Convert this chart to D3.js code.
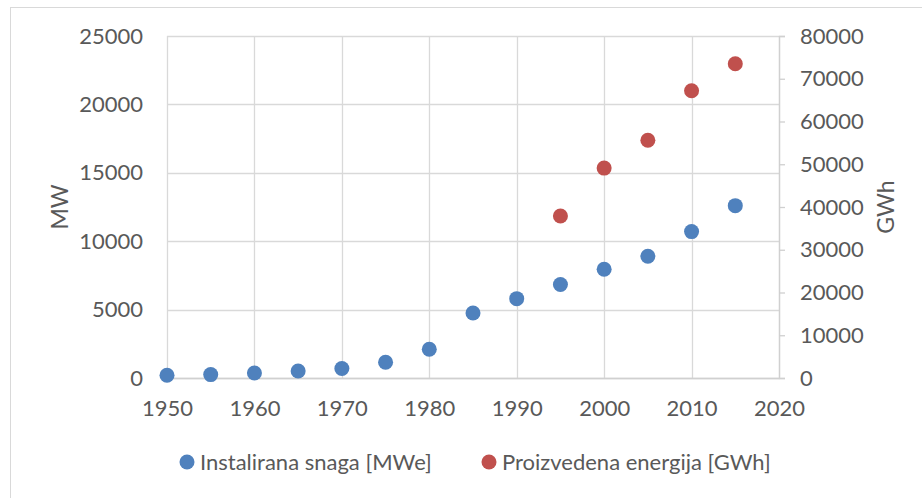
<!DOCTYPE html>
<html lang="hr">
<head>
<meta charset="utf-8">
<script src="https://cdn.jsdelivr.net/npm/d3@7/dist/d3.min.js"></script>
<style>
  body { margin: 0; background: #fff; }
  text { font-family: Lato, "Open Sans", sans-serif; fill: #595959; }
</style>
</head>
<body>
<svg width="922" height="498"></svg>
<script>
// data
var years = [1950, 1955, 1960, 1965, 1970, 1975, 1980, 1985, 1990, 1995, 2000, 2005, 2010, 2015];
var snaga = [200, 250, 370, 510, 690, 1150, 2100, 4750, 5800, 6830, 7950, 8900, 10700, 12600];
var energijaYears = [1995, 2000, 2005, 2010, 2015];
var energija = [37900, 49100, 55600, 67200, 73500];
var xTicks = [1950, 1960, 1970, 1980, 1990, 2000, 2010, 2020];
var leftTicks = [0, 5000, 10000, 15000, 20000, 25000];
var rightTicks = [0, 10000, 20000, 30000, 40000, 50000, 60000, 70000, 80000];
var seriesNames = ["Instalirana snaga [MWe]", "Proizvedena energija [GWh]"];
var colors = ["#4F81BD", "#C0504D"];

var svg = d3.select("svg");
var plotLeft = 167, plotRight = 779, plotTop = 36, plotBottom = 378;
var fontSize = "22px";

// outer frame
svg.append("rect")
    .attr("x", 10.5).attr("y", 7.5)
    .attr("width", 930).attr("height", 500)
    .attr("fill", "none").attr("stroke", "#d9d9d9");

var x = d3.scaleLinear().domain([1950, 2020]).range([plotLeft, plotRight]);
var yL = d3.scaleLinear().domain([0, 25000]).range([plotBottom, plotTop]);
var yR = d3.scaleLinear().domain([0, 80000]).range([plotBottom, plotTop]);

var g = svg.append("g");

// gridlines
g.selectAll(".hgrid").data(leftTicks).enter().append("line")
    .attr("x1", plotLeft).attr("x2", plotRight)
    .attr("y1", function(d) { return Math.round(yL(d)) + 0.5; })
    .attr("y2", function(d) { return Math.round(yL(d)) + 0.5; })
    .attr("stroke", "#d9d9d9").attr("stroke-width", 1.3);

g.selectAll(".vgrid").data(xTicks).enter().append("line")
    .attr("y1", plotTop).attr("y2", plotBottom)
    .attr("x1", function(d) { return Math.round(x(d)) + 0.5; })
    .attr("x2", function(d) { return Math.round(x(d)) + 0.5; })
    .attr("stroke", "#d9d9d9").attr("stroke-width", 1.3);

function styleText(a) {
    a.selectAll("text")
        .style("font-size", fontSize)
        .style("font-family", "Lato, sans-serif")
        .attr("fill", "#595959");
}

// left axis labels
g.append("g").attr("transform", "translate(" + plotLeft + ",0)")
    .call(d3.axisLeft(yL).tickValues(leftTicks).tickSize(0).tickPadding(24).tickFormat(d3.format("d")))
    .call(function(a) { a.select(".domain").remove(); styleText(a); });

// right axis
g.append("g").attr("transform", "translate(" + plotRight + ",0)")
    .call(d3.axisRight(yR).tickValues(rightTicks).tickSizeInner(6).tickSizeOuter(6).tickPadding(15).tickFormat(d3.format("d")))
    .call(function(a) {
        a.select(".domain").attr("stroke", "#d0d0d0").attr("stroke-width", 1.3);
        a.selectAll(".tick line").attr("stroke", "#d0d0d0").attr("stroke-width", 1.3);
        styleText(a);
    });

// bottom axis
g.append("g").attr("transform", "translate(0," + plotBottom + ")")
    .call(d3.axisBottom(x).tickValues(xTicks).tickSize(0).tickPadding(22).tickFormat(d3.format("d")))
    .call(function(a) {
        a.select(".domain").attr("stroke", "#d0d0d0").attr("stroke-width", 1.3);
        styleText(a);
    });

// axis titles
svg.append("text")
    .attr("transform", "translate(68," + ((plotTop + plotBottom) / 2) + ") rotate(-90)")
    .attr("text-anchor", "middle")
    .style("font-size", "23px")
    .text("MW");
svg.append("text")
    .attr("transform", "translate(894," + ((plotTop + plotBottom) / 2) + ") rotate(-90)")
    .attr("text-anchor", "middle")
    .style("font-size", "23px")
    .text("GWh");

// points
g.selectAll(".snaga").data(years).enter().append("circle")
    .attr("cx", function(d) { return x(d); })
    .attr("cy", function(d, i) { return yL(snaga[i]); })
    .attr("r", 7.5)
    .attr("fill", colors[0]);

g.selectAll(".energija").data(energijaYears).enter().append("circle")
    .attr("cx", function(d) { return x(d); })
    .attr("cy", function(d, i) { return yR(energija[i]); })
    .attr("r", 7.5)
    .attr("fill", colors[1]);

// legend
var legendX = [187, 489];
var legend = svg.selectAll(".legend").data(seriesNames).enter().append("g")
    .attr("transform", function(d, i) { return "translate(" + legendX[i] + ",462)"; });
legend.append("circle").attr("r", 7.5).attr("fill", function(d, i) { return colors[i]; });
legend.append("text")
    .attr("x", 13).attr("dy", "0.35em")
    .style("font-size", fontSize)
    .text(function(d) { return d; });
</script>
</body>
</html>
